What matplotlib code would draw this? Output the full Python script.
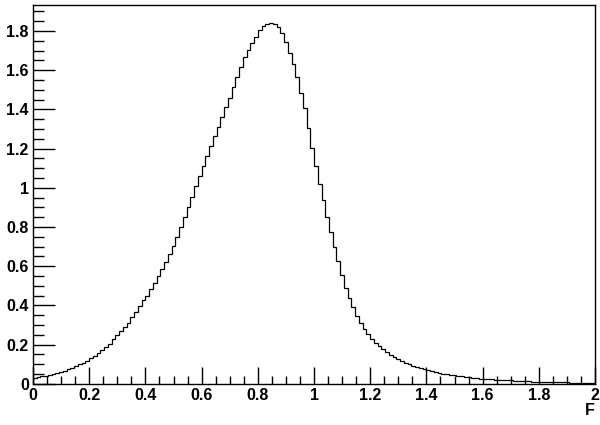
import numpy as np
import matplotlib
matplotlib.use("Agg")
import matplotlib.pyplot as plt
from matplotlib.ticker import MultipleLocator, FuncFormatter

# histogram of F, 150 bins between 0 and 2
x_min, x_max, n_bins = 0.0, 2.0, 150
counts = [
    0.030, 0.033, 0.037, 0.041, 0.045, 0.049, 0.054, 0.059, 0.066, 0.074,
    0.082, 0.090, 0.099, 0.108, 0.118, 0.129, 0.142, 0.155, 0.170, 0.186,
    0.204, 0.228, 0.248, 0.268, 0.290, 0.312, 0.338, 0.368, 0.398, 0.425,
    0.450, 0.482, 0.514, 0.548, 0.584, 0.620, 0.660, 0.702, 0.748, 0.798,
    0.850, 0.900, 0.955, 1.010, 1.060, 1.110, 1.160, 1.215, 1.265, 1.310,
    1.360, 1.410, 1.460, 1.515, 1.565, 1.615, 1.665, 1.705, 1.740, 1.770,
    1.805, 1.825, 1.838, 1.843, 1.838, 1.818, 1.790, 1.745, 1.690, 1.630,
    1.565, 1.485, 1.405, 1.305, 1.205, 1.110, 1.020, 0.935, 0.850, 0.775,
    0.700, 0.625, 0.555, 0.490, 0.435, 0.390, 0.345, 0.310, 0.278, 0.252,
    0.230, 0.210, 0.192, 0.176, 0.161, 0.148, 0.136, 0.125, 0.115, 0.106,
    0.098, 0.091, 0.085, 0.079, 0.073, 0.068, 0.063, 0.059, 0.055, 0.051,
    0.048, 0.045, 0.042, 0.039, 0.037, 0.034, 0.032, 0.030, 0.028, 0.026,
    0.025, 0.023, 0.022, 0.021, 0.020, 0.019, 0.018, 0.017, 0.016, 0.015,
    0.014, 0.013, 0.012, 0.011, 0.011, 0.010, 0.010, 0.009, 0.009, 0.008,
    0.008, 0.007, 0.007, 0.006, 0.006, 0.005, 0.005, 0.005, 0.004, 0.004,
]
x_title = "F"

plt.rcParams['font.family'] = ['Liberation Sans', 'DejaVu Sans']
plt.rcParams['font.weight'] = 'bold'

fig = plt.figure(figsize=(6, 4.25), dpi=100)
ax = fig.add_axes([0.055, 0.0972, 0.9367, 0.8922])

edges = np.linspace(x_min, x_max, n_bins + 1)
ax.stairs(counts, edges, color="k", lw=0.9)

ax.set_xlim(x_min, x_max)
ax.set_ylim(0, 1.05 * max(counts))

ax.xaxis.set_major_locator(MultipleLocator(0.2))
ax.xaxis.set_minor_locator(MultipleLocator(0.05))
ax.yaxis.set_major_locator(MultipleLocator(0.2))
ax.yaxis.set_minor_locator(MultipleLocator(0.05))
fmt = FuncFormatter(lambda v, p: "%g" % round(v, 2))
ax.xaxis.set_major_formatter(fmt)
ax.yaxis.set_major_formatter(fmt)

ax.tick_params(axis="both", which="both", direction="in", top=False, right=False,
               labelsize=11.5, width=1)
ax.tick_params(axis="x", which="major", length=12, pad=3)
ax.tick_params(axis="x", which="minor", length=6)
ax.tick_params(axis="y", which="major", length=16, pad=3)
ax.tick_params(axis="y", which="minor", length=8)
for s in ax.spines.values():
    s.set_linewidth(1)

ax.set_xlabel(x_title, fontsize=11.5, fontweight="bold", loc="right", labelpad=0)

fig.savefig("out.png", dpi=100)
